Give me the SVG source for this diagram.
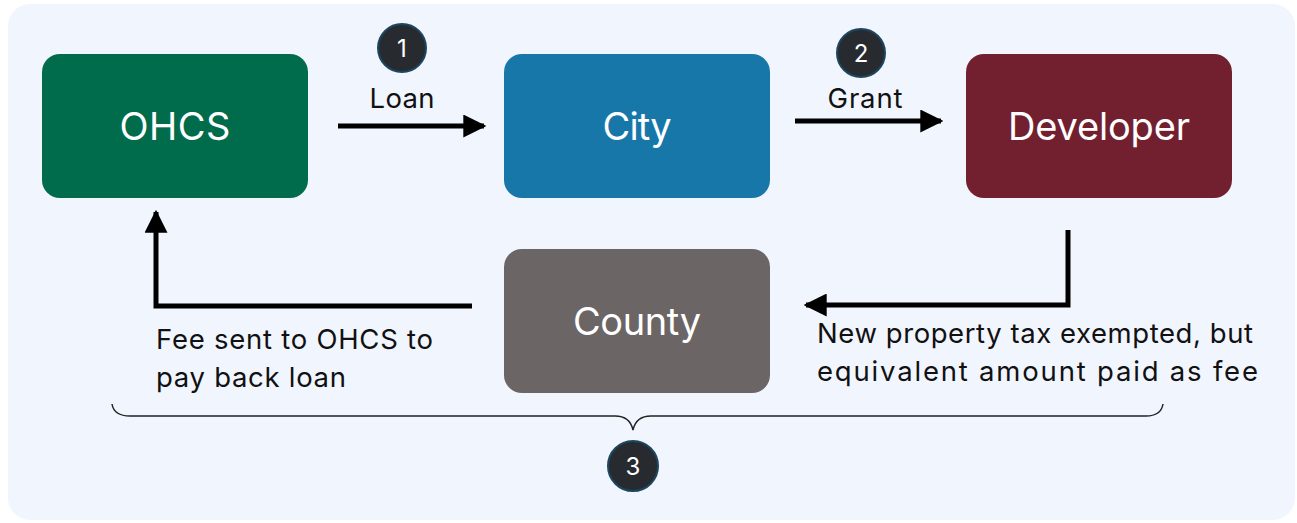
<svg xmlns="http://www.w3.org/2000/svg" width="1297" height="523" viewBox="0 0 1297 523">
<defs>
<style>
.node text{font-family:Inter,"Open Sans",sans-serif;font-size:38px;fill:#ffffff;text-anchor:middle;dominant-baseline:central}
.lbl{font-family:Inter,"Open Sans",sans-serif;font-size:27.5px;fill:#111111}
.badge circle{fill:#272b2f;stroke:#1d4660;stroke-width:2}
.badge text{font-family:Inter,"Open Sans",sans-serif;font-size:24px;fill:#ffffff;text-anchor:middle;dominant-baseline:central}
.conn{fill:none;stroke:#000000;stroke-width:5}
</style>
<marker id="ah" viewBox="0 0 10 10" refX="9" refY="5" markerWidth="4.6" markerHeight="4.6" markerUnits="strokeWidth" orient="auto">
<path d="M0,0 L10,5 L0,10 z" fill="#000000"/>
</marker>
</defs>
<rect x="0" y="0" width="1297" height="523" fill="#ffffff"/>
<rect x="8" y="4" width="1287" height="516" rx="22" fill="#f1f5fe"/>

<g id="connectors">
<line class="conn" x1="338" y1="126" x2="484" y2="126" marker-end="url(#ah)"/>
<line class="conn" x1="795" y1="121" x2="941" y2="121" marker-end="url(#ah)"/>
<polyline class="conn" points="1068,230 1068,305 806,305" marker-end="url(#ah)"/>
<polyline class="conn" points="472,306 156,306 156,212" marker-end="url(#ah)"/>
<path d="M112,404 Q114,416 130,416 L615,416 Q630,416 633,430 Q636,416 651,416 L1146,416 Q1161,416 1163,404" fill="none" stroke="#222222" stroke-width="1.5"/>
</g>

<g id="ohcs" class="node">
<rect x="42" y="54" width="266" height="144" rx="18" fill="#006c4b"/>
<text x="175" y="126" textLength="111">OHCS</text>
</g>
<g id="city" class="node">
<rect x="504" y="54" width="266" height="144" rx="18" fill="#1777a9"/>
<text x="637" y="126" textLength="69">City</text>
</g>
<g id="developer" class="node">
<rect x="966" y="54" width="266" height="144" rx="18" fill="#72202f"/>
<text x="1099" y="126" textLength="182">Developer</text>
</g>
<g id="county" class="node">
<rect x="504" y="249" width="266" height="144" rx="18" fill="#6c6565"/>
<text x="637" y="321" textLength="128">County</text>
</g>

<g id="badge1" class="badge"><circle cx="402" cy="48" r="24"/><text x="402" y="48">1</text></g>
<g id="badge2" class="badge"><circle cx="861" cy="53" r="24"/><text x="861" y="53">2</text></g>
<g id="badge3" class="badge"><circle cx="633" cy="466" r="25"/><text x="633" y="466">3</text></g>

<text class="lbl" x="402" y="108" text-anchor="middle" textLength="65">Loan</text>
<text class="lbl" x="865" y="108" text-anchor="middle" textLength="75">Grant</text>
<text class="lbl" x="156" y="349" textLength="277">Fee sent to OHCS to</text>
<text class="lbl" x="156" y="387" textLength="190">pay back loan</text>
<text class="lbl" x="817" y="343" textLength="436">New property tax exempted, but</text>
<text class="lbl" x="817" y="381" textLength="441">equivalent amount paid as fee</text>
</svg>
